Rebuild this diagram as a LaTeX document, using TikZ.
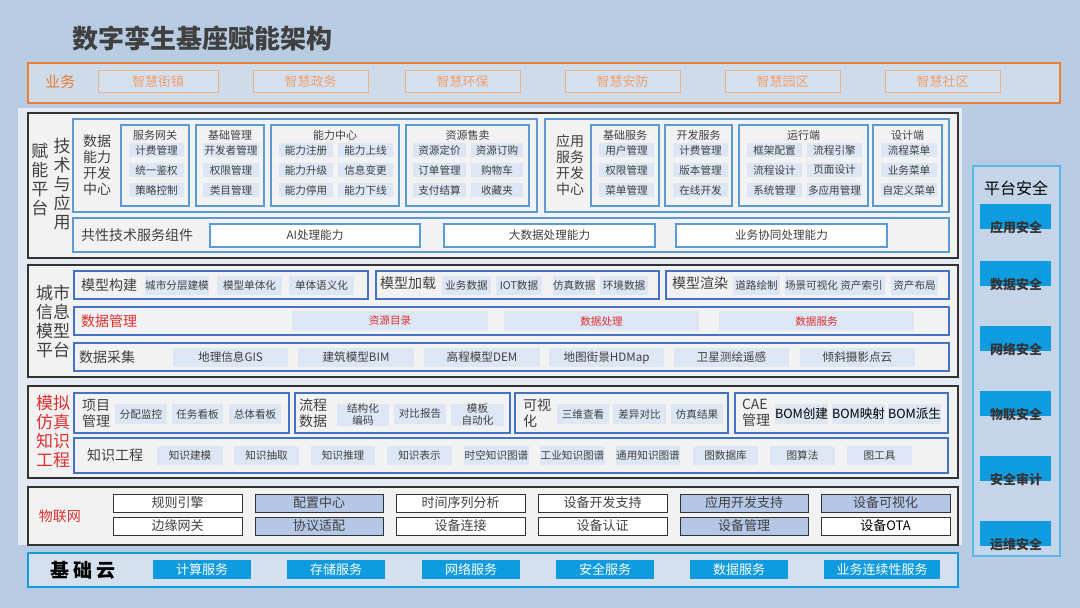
\documentclass[tikz,border=0pt]{standalone}
\usepackage{fontspec}
\setmainfont{Noto Sans CJK SC}
\definecolor{bgc}{HTML}{B7CBE3}
\definecolor{band}{HTML}{E3EAF4}
\definecolor{pan}{HTML}{F2F2F2}
\definecolor{bl}{HTML}{5B9BD5}
\definecolor{dbl}{HTML}{4472C4}
\definecolor{itc}{HTML}{DCE6F4}
\definecolor{org}{HTML}{ED7D31}
\definecolor{orgt}{HTML}{F0A070}
\definecolor{cy}{HTML}{0E9BE0}
\definecolor{txt}{HTML}{404040}
\definecolor{redt}{HTML}{E03030}
\definecolor{fillg}{HTML}{B4C7E7}
\newcounter{nb}
\newcommand\bx[6]{\stepcounter{nb}\node[inner sep=0pt,outer sep=0pt,align=center,anchor=north west,minimum width={((#3)-(#1))*0.5pt},minimum height={((#4)-(#2))*0.5pt},#5] (n\thenb) at ({#1},{#2}) {#6};}
\newcommand\tx[4]{\stepcounter{nb}\node[inner sep=0pt,align=center,text=txt,#3] (t\thenb) at ({#1},{#2}) {#4};}
\tikzset{
 it/.style={fill=itc,text=txt,font=\fontsize{5.3}{6}\selectfont},
 grp/.style={draw=bl,line width=0.7pt,fill=pan},
 row/.style={draw=dbl,line width=0.7pt,fill=pan},
 pnl/.style={draw=black!80,line width=0.8pt,fill=pan},
 lab/.style={font=\fontsize{7}{8}\selectfont},
 big/.style={font=\fontsize{8.5}{9.5}\selectfont},
 gt/.style={font=\fontsize{5.5}{6}\selectfont},
 iot/.style={draw=black!80,line width=0.5pt,fill=white,text=txt,font=\fontsize{6.5}{7}\selectfont},
 iotf/.style={iot,fill=fillg},
 sec/.style={fill=cy},
 sect/.style={font=\fontsize{6.5}{7}\selectfont\bfseries,text=black!80},
 cld/.style={fill=cy,text=white,font=\fontsize{6.5}{7}\selectfont},
}
\begin{document}
\begin{tikzpicture}[x=0.5pt,y=-0.5pt]
\useasboundingbox (0,0) rectangle (1080,608);
\fill[bgc] (0,0) rectangle (1080,608);
\fill[band] (18,108) rectangle (962,545);
% title
\tx{202}{39}{font=\fontsize{13}{14}\selectfont\bfseries}{数字孪生基座赋能架构}
% business
\bx{28}{63}{1060}{103}{draw=org,line width=0.8pt,fill=bgc!70!white}{}
\tx{60}{82}{text=org,font=\fontsize{7.5}{8}\selectfont}{业务}
\foreach \a/\b/\t in {98/218/智慧街镇,253/368/智慧政务,405/520/智慧环保,565/680/智慧安防,725/840/智慧园区,885/1000/智慧社区}{
 \bx{\a}{71}{\b}{93}{draw=org!60,line width=0.5pt,fill=bgc!60!white,text=orgt,font=\fontsize{6.5}{7}\selectfont}{\t}}
% ===== panel 1
\bx{28}{113}{958}{258}{pnl}{}
\tx{40}{180}{big}{赋\\能\\平\\台}
\tx{62}{184}{big}{技\\术\\与\\应\\用}
\bx{73}{119}{537}{212}{grp}{}
\tx{97}{165}{lab}{数据\\能力\\开发\\中心}
\foreach \a/\b/\t in {121/189/服务网关,196/264/基础管理,271/399/能力中心,406/529/资源售卖}{
 \bx{\a}{125}{\b}{206}{grp}{}
 \tx{(\a+\b)/2}{135}{gt}{\t}}
\foreach \a/\b/\t/\u/\v in {129/184/计费管理/统一鉴权/策略控制,203/259/开发者管理/权限管理/类目管理,279/333/能力注册/能力升级/能力停用,338/393/能力上线/信息变更/能力下线,413/466/资源定价/订单管理/支付结算,471/523/资源订购/购物车/收藏夹}{
 \bx{\a}{143}{\b}{157}{it}{\t}
 \bx{\a}{163}{\b}{177}{it}{\u}
 \bx{\a}{183}{\b}{197}{it}{\v}}
\bx{545}{119}{949}{212}{grp}{}
\tx{570}{165}{lab}{应用\\服务\\开发\\中心}
\foreach \a/\b/\t in {591/659/基础服务,665/732/开发服务,739/868/运行端,873/942/设计端}{
 \bx{\a}{125}{\b}{206}{grp}{}
 \tx{(\a+\b)/2}{135}{gt}{\t}}
\foreach \a/\b/\t/\u/\v in {599/654/用户管理/权限管理/菜单管理,673/728/计费管理/版本管理/在线开发,747/802/框架配置/流程设计/系统管理,807/862/流程引擎/页面设计/多应用管理,881/937/流程菜单/业务菜单/自定义菜单}{
 \bx{\a}{143}{\b}{157}{it}{\t}
 \bx{\a}{163}{\b}{177}{it}{\u}
 \bx{\a}{183}{\b}{197}{it}{\v}}
\bx{73}{218}{949}{252}{grp}{}
\tx{137}{235}{lab}{共性技术服务组件}
\foreach \a/\b/\t in {210/420/AI处理能力,444/655/大数据处理能力,676/887/业务协同处理能力}{
 \bx{\a}{224}{\b}{247}{draw=bl,line width=0.6pt,fill=white,text=txt,font=\fontsize{5.8}{6}\selectfont}{\t}}
% ===== platform security
\bx{973}{166}{1060}{556}{draw=cy!70,line width=0.8pt,fill=bgc!80!white}{}
\tx{1016}{188}{font=\fontsize{8}{9}\selectfont,text=black}{平台安全}
\foreach \y/\t in {228/应用安全,285/数据安全,350/网络安全,415/物联安全,480/安全审计,545/运维安全}{
 \bx{980}{\y-24}{1051}{\y+1}{sec}{}
 \tx{1016}{\y}{sect}{\t}}
% ===== panel 2
\bx{28}{265}{958}{377}{pnl}{}
\tx{53}{321}{big}{城市\\信息\\模型\\平台}
\bx{74}{271}{368}{299}{row}{}
\bx{376}{271}{659}{299}{row}{}
\bx{666}{271}{949}{299}{row}{}
\tx{109}{285}{lab}{模型构建}
\tx{408}{283}{lab}{模型加载}
\tx{700}{283}{lab}{模型渲染}
\foreach \a/\b/\t in {145/209/城市分层建模,217/282/模型单体化,289/354/单体语义化,442/491/业务数据,496/542/IOT数据,553/595/仿真数据,600/648/环境数据,733/780/道路绘制,785/833/场景可视化,838/885/资产索引,891/938/资产布局}{
 \bx{\a}{276}{\b}{295}{it}{\t}}
\bx{74}{307}{949}{335}{row}{}
\tx{109}{321}{lab,text=redt}{数据管理}
\foreach \a/\b/\t in {292/488/资源目录,504/699/数据处理,719/914/数据服务}{
 \bx{\a}{311}{\b}{331}{it,text=redt}{\t}}
\bx{74}{343}{949}{371}{row}{}
\tx{107}{357}{lab}{数据采集}
\foreach \a/\b/\t in {173/288/地理信息GIS,298/414/建筑模型BIM,424/540/高程模型DEM,549/664/地图街景HDMap,674/789/卫星测绘遥感,800/915/倾斜摄影点云}{
 \bx{\a}{348}{\b}{367}{it,font=\fontsize{5.8}{6}\selectfont}{\t}}
% ===== panel 3
\bx{28}{386}{958}{478}{pnl}{}
\tx{53}{432}{big,text=redt}{模拟\\仿真\\知识\\工程}
\bx{74}{393}{289}{433}{row}{}
\bx{295}{393}{510}{433}{row}{}
\bx{515}{393}{728}{433}{row}{}
\bx{735}{393}{948}{433}{row}{}
\tx{96}{413}{lab,align=left}{项目\\管理}
\tx{313}{413}{lab,align=left}{流程\\数据}
\tx{537}{413}{lab,align=left}{可视\\化}
\tx{756}{413}{lab,align=left}{CAE\\管理}
\foreach \a/\b/\t in {115/167/分配监控,172/223/任务看板,229/281/总体看板,337/389/结构化\\编码,394/446/对比报告,451/504/模板\\自动化,557/609/三维查看,613/666/差异对比,671/723/仿真结果}{
 \bx{\a}{404}{\b}{424}{it}{\t}}
\foreach \a/\b/\t in {775/827/BOM创建,832/883/BOM映射,888/940/BOM派生}{
 \bx{\a}{404}{\b}{424}{it,text=black,font=\fontsize{6.3}{7}\selectfont}{\t}}
\bx{74}{438}{948}{473}{row}{}
\tx{115}{455}{lab}{知识工程}
\foreach \a/\b/\t in {157/223/知识建模,234/299/知识抽取,311/375/知识推理,387/452/知识表示,464/529/时空知识图谱,540/605/工业知识图谱,616/680/通用知识图谱,693/758/图数据库,770/835/图算法,847/912/图工具}{
 \bx{\a}{446}{\b}{465}{it}{\t}}
% ===== panel 4
\bx{28}{487}{958}{545}{pnl}{}
\tx{60}{516}{lab,text=redt}{物联网}
\bx{113}{494}{242}{512}{iot}{规则引擎}
\bx{255}{494}{383}{512}{iotf}{配置中心}
\bx{396}{494}{525}{512}{iot}{时间序列分析}
\bx{538}{494}{667}{512}{iot}{设备开发支持}
\bx{680}{494}{808}{512}{iotf}{应用开发支持}
\bx{821}{494}{950}{512}{iotf}{设备可视化}
\bx{113}{517}{242}{535}{iot}{边缘网关}
\bx{255}{517}{383}{535}{iotf}{协议适配}
\bx{396}{517}{525}{535}{iot}{设备连接}
\bx{538}{517}{667}{535}{iot}{设备认证}
\bx{680}{517}{808}{535}{iotf}{设备管理}
\bx{821}{517}{950}{535}{iot,text=black}{设备OTA}
% ===== cloud
\bx{28}{553}{958}{587}{draw=cy,line width=0.8pt,fill=bgc!60!white}{}
\tx{83}{570}{font=\fontsize{9.5}{10}\selectfont\bfseries,text=black}{基\ 础\ 云}
\foreach \a/\b/\t in {153/251/计算服务,287/385/存储服务,422/520/网络服务,556/654/安全服务,690/788/数据服务,824/940/业务连续性服务}{
 \bx{\a}{560}{\b}{579}{cld}{\t}}
\end{tikzpicture}
\end{document}
